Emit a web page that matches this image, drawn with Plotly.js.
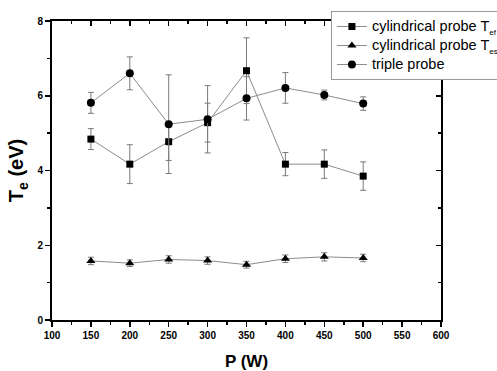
<!DOCTYPE html>
<html>
<head>
<meta charset="utf-8">
<script src="https://cdn.plot.ly/plotly-3.0.1.min.js"></script>
<style>html,body{margin:0;padding:0;background:#fff;}#chart{width:497px;height:371px;}</style>
</head>
<body>
<div id="chart"></div>
<script>
const power = [150, 200, 250, 300, 350, 400, 450, 500];
const tefValues = [4.84, 4.17, 4.77, 5.28, 6.67, 4.17, 4.17, 3.85];
const tefErrors = [0.28, 0.52, 0.50, 0.52, 0.88, 0.31, 0.38, 0.38];
const tesValues = [1.58, 1.52, 1.62, 1.59, 1.48, 1.64, 1.69, 1.66];
const tesErrors = [0.10, 0.09, 0.10, 0.10, 0.09, 0.10, 0.11, 0.10];
const tripleValues = [5.81, 6.60, 5.24, 5.37, 5.93, 6.21, 6.02, 5.79];
const tripleErrors = [0.28, 0.44, 1.32, 0.90, 0.58, 0.41, 0.13, 0.18];
const seriesNames = [
  '<span style="font-size:14.5px">cylindrical probe T</span><span style="font-size:8px;baseline-shift:-4px">ef</span>',
  '<span style="font-size:14.5px">cylindrical probe T</span><span style="font-size:8px;baseline-shift:-4px">es</span>',
  '<span style="font-size:14.5px">triple probe</span>'
];
const xTickVals = [100, 150, 200, 250, 300, 350, 400, 450, 500, 550, 600];
const yTickVals = [0, 2, 4, 6, 8];

const lineStyle = {color: '#8c8c8c', width: 1};
function mk(y, err, name, symbol, size) {
  return {
    x: power, y: y, name: name, type: 'scatter', mode: 'lines+markers',
    line: lineStyle,
    marker: {symbol: symbol, color: '#000', size: size},
    error_y: {type: 'data', array: err, visible: true, color: '#7a7a7a', thickness: 1, width: 3}
  };
}
const data = [
  mk(tefValues, tefErrors, seriesNames[0], 'square', 7),
  mk(tesValues, tesErrors, seriesNames[1], 'triangle-up', 8),
  mk(tripleValues, tripleErrors, seriesNames[2], 'circle', 8),
  {x: [100], y: [0], xaxis: 'x2', yaxis: 'y2', mode: 'markers', marker: {opacity: 0}, showlegend: false, hoverinfo: 'skip'}
];
const FONT = 'Liberation Sans, Arial, sans-serif';
const tickFont = {family: FONT, size: 10, color: '#000', weight: 'bold'};
const layout = {
  width: 497, height: 371,
  margin: {l: 52, r: 56, t: 21, b: 51, autoexpand: false},
  paper_bgcolor: '#fff', plot_bgcolor: '#fff',
  showlegend: true,
  legend: {
    x: 0.717, y: 1.0334, xanchor: 'left', yanchor: 'top',
    bgcolor: '#fff', bordercolor: '#999', borderwidth: 1,
    font: {family: FONT, size: 12, color: '#000'},
    tracegroupgap: 0, itemwidth: 30
  },
  xaxis: {
    range: [100, 600], tickvals: xTickVals, ticks: 'outside', ticklen: 5, tickwidth: 1.5, tickcolor: '#000',
    minor: {dtick: 25, ticks: 'outside', ticklen: 3, tickwidth: 1.5, tickcolor: '#000'},
    showline: true, linecolor: '#000', linewidth: 2, showgrid: false, zeroline: false,
    tickfont: tickFont,
    title: {text: 'P (W)', font: {family: FONT, size: 17, weight: 'bold', color: '#000'}, standoff: 23}
  },
  yaxis: {
    range: [0, 8], tickvals: yTickVals, ticks: 'outside', ticklen: 5, tickwidth: 1.5, tickcolor: '#000',
    minor: {dtick: 1, ticks: 'outside', ticklen: 3, tickwidth: 1.5, tickcolor: '#000'},
    showline: true, linecolor: '#000', linewidth: 2, showgrid: false, zeroline: false,
    tickfont: tickFont,
    title: {text: 'T<sub>e</sub> (eV)', font: {family: FONT, size: 20, weight: 'bold', color: '#000'}, standoff: 8}
  },
  xaxis2: {
    overlaying: 'x', side: 'top', range: [100, 600], tickvals: xTickVals, ticks: 'inside', ticklen: 5, tickwidth: 1.5, tickcolor: '#000',
    minor: {dtick: 25, ticks: 'inside', ticklen: 3, tickwidth: 1.5, tickcolor: '#000'},
    showticklabels: false, showline: true, linecolor: '#000', linewidth: 2, showgrid: false, zeroline: false
  },
  yaxis2: {
    overlaying: 'y', side: 'right', range: [0, 8], tickvals: yTickVals, ticks: 'inside', ticklen: 5, tickwidth: 1.5, tickcolor: '#000',
    minor: {dtick: 1, ticks: 'inside', ticklen: 3, tickwidth: 1.5, tickcolor: '#000'},
    showticklabels: false, showline: true, linecolor: '#000', linewidth: 2, showgrid: false, zeroline: false
  }
};
Plotly.newPlot('chart', data, layout, {displayModeBar: false, staticPlot: true});
</script>
</body>
</html>
